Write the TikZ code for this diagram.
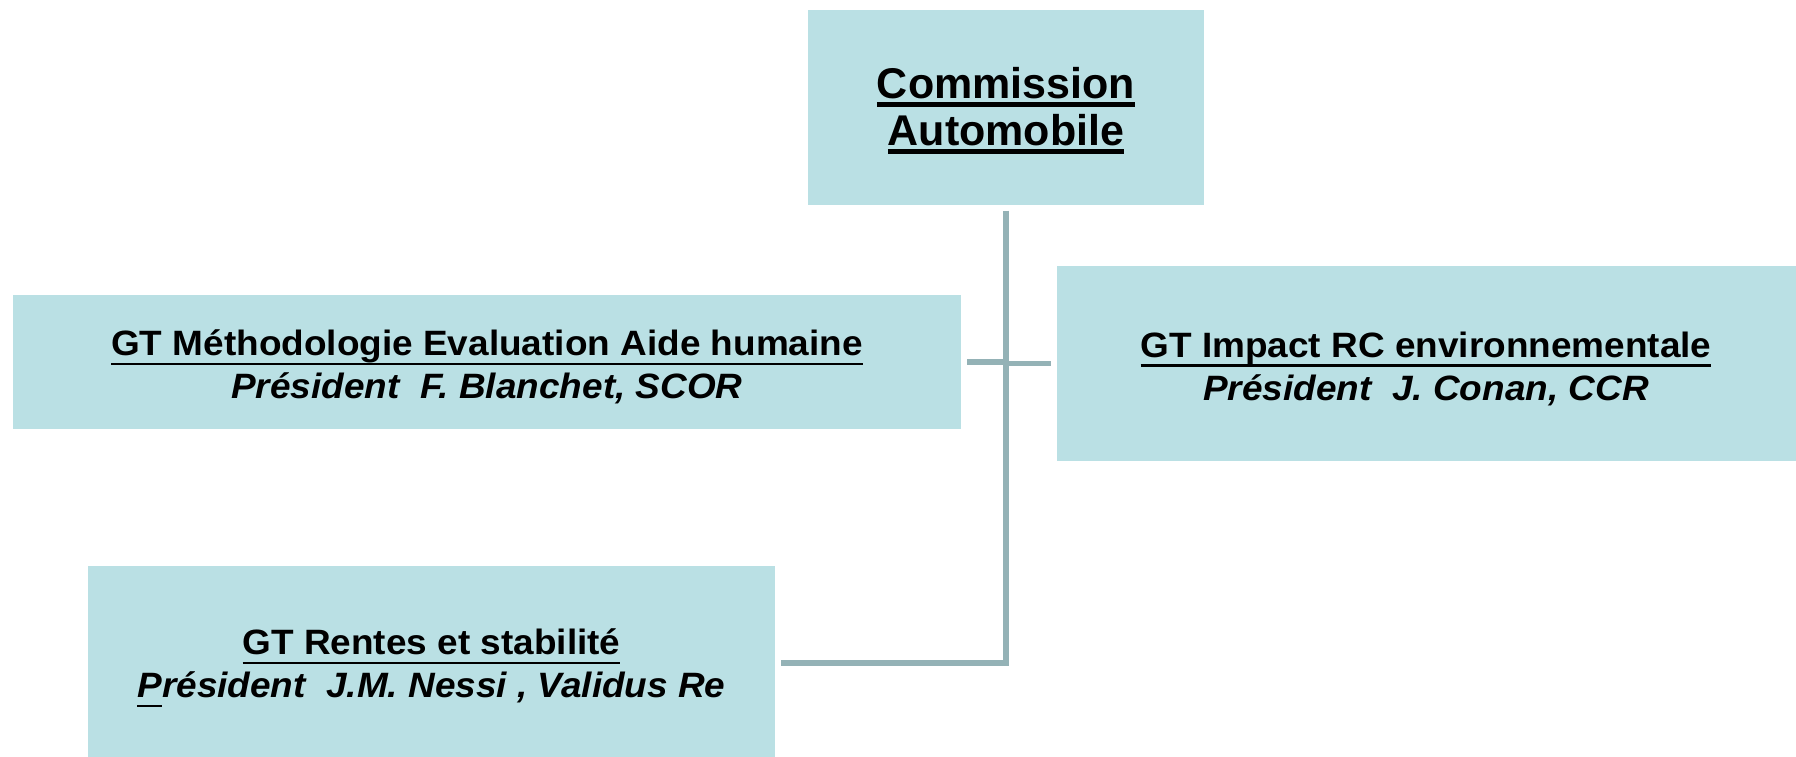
\documentclass[tikz,border=0pt]{standalone}
\usepackage{fontspec}
\setmainfont{Liberation Sans}
\newfontfamily\gtfont[FakeStretch=1.05]{Liberation Sans}
\usetikzlibrary{calc}
\definecolor{boxfill}{RGB}{186,224,228}
\definecolor{linkgray}{RGB}{148,178,182}
\newcommand{\ulbig}[1]{\setbox0\hbox{#1}\rlap{\rule[-4.4pt]{\wd0}{2.5pt}}\box0}
\newcommand{\ulgt}[1]{\setbox0\hbox{#1}\rlap{\rule[-4.8pt]{\wd0}{1.4pt}}\box0}
\newcommand{\bigstrut}{\rule{0pt}{19pt}}
\newcommand{\gtstrut}{\rule{0pt}{18pt}}
\begin{document}
\begin{tikzpicture}[x=0.5pt,y=-0.5pt,
  box/.style={fill=boxfill,inner sep=0pt,outer sep=3pt,align=center},
  gtbox/.style={box,font=\gtfont\fontsize{17.6}{21.5}\selectfont},
  link/.style={draw=linkgray,line width=2.8pt}]
\useasboundingbox (0,0) rectangle (1796,756);
\clip (0,0) rectangle (1796,756);
\node[box,minimum width=198pt,minimum height=97.5pt,font=\fontsize{21.5}{23.5}\selectfont\bfseries] (comm) at (1006,107) {\bigstrut\ulbig{Commission}\\\ulbig{Automobile}};
\node[gtbox,minimum width=474pt,minimum height=67pt] (meth) at (487,362) {\gtstrut\bfseries\ulgt{GT Méthodologie Evaluation Aide humaine}\\\bfseries\itshape Président~~F. Blanchet, SCOR};
\node[gtbox,minimum width=369.5pt,minimum height=97.5pt] (impact) at (1426,363.5) {\gtstrut\bfseries\ulgt{GT Impact RC environnementale}\\\bfseries\itshape Président~~J. Conan, CCR};
\node[gtbox,minimum width=343.5pt,minimum height=97.5pt] (rentes) at (431.5,663) {\gtstrut\bfseries\ulgt{GT Rentes et stabilité}\\\bfseries\itshape \ulgt{P}résident~~J.M. Nessi , Validus Re};
\draw[link] (comm.south) -- (comm.south |- rentes.east) -- (rentes.east);
\draw[link] (meth.east) -- (meth.east -| comm.south);
\draw[link] (impact.west) -- (impact.west -| comm.south);
\end{tikzpicture}
\end{document}
